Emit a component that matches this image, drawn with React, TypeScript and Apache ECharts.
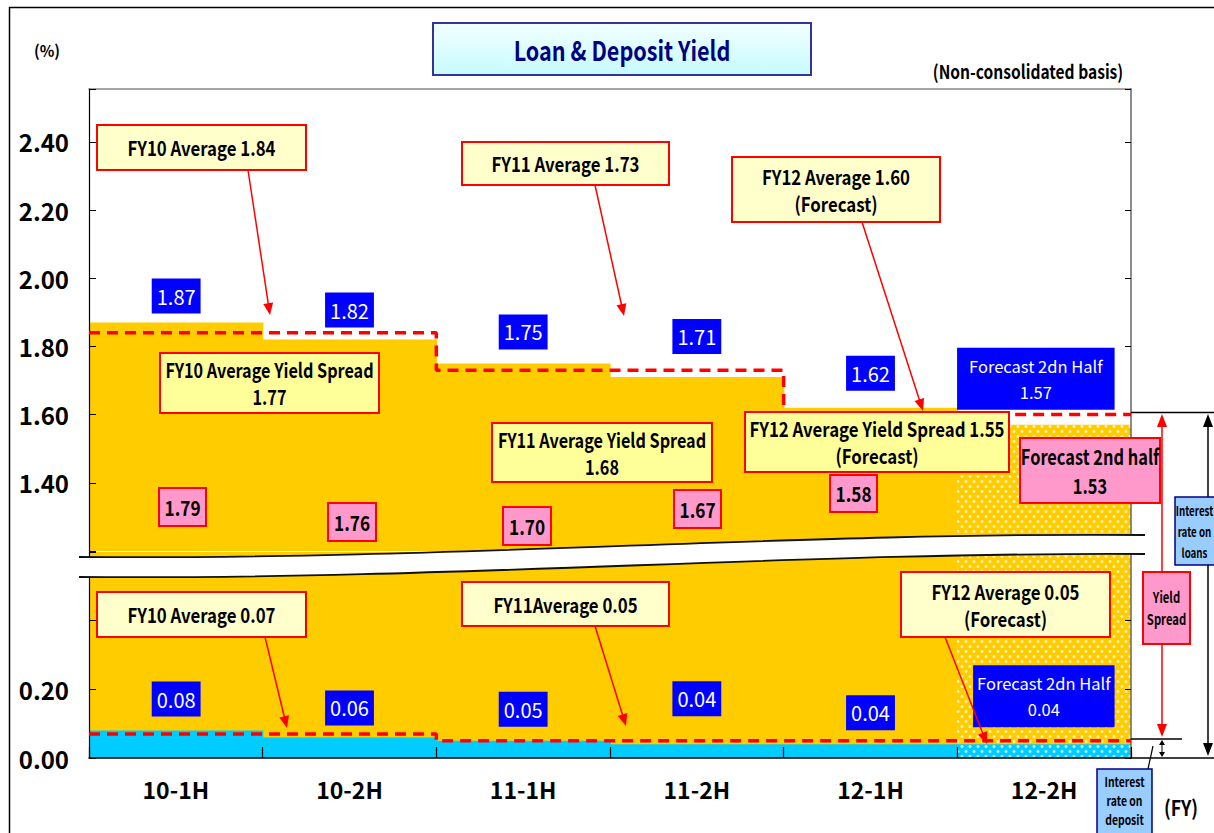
import React, { useEffect, useRef } from 'react';
import * as echarts from 'echarts';

// ---------------- data ----------------
const categories = ['10-1H', '10-2H', '11-1H', '11-2H', '12-1H', '12-2H'];
const loanYield = [1.87, 1.82, 1.75, 1.71, 1.62, 1.57];
const depositYield = [0.08, 0.06, 0.05, 0.04, 0.04, 0.04];
const yieldSpread = [1.79, 1.76, 1.7, 1.67, 1.58, 1.53];
const fiscalYears = ['FY10', 'FY11', 'FY12'];
const fyLoanAvg = [1.84, 1.73, 1.6];
const fyDepositAvg = [0.07, 0.05, 0.05];
const fySpreadAvg = [1.77, 1.68, 1.55];
const upperTickLabels = ['1.40', '1.60', '1.80', '2.00', '2.20', '2.40'];
const lowerTickLabels = ['0.00', '0.20'];
const FORECAST_INDEX = 5;

// ---------------- styles / layout ----------------
const FONT = "'Noto Sans CJK JP', 'Noto Sans', Roboto, sans-serif";
const ORANGE = '#FFCC00';
const CYAN = '#00CCFF';
const BLUE = '#0000FF';
const RED = '#FF0000';
const PINK = '#FF99CC';
const LIGHT_YELLOW = '#FFFFCC';
const YELLOW = '#FFFF99';
const SX = 0.84; // horizontal condensing of annotation texts
const BAR_W = 175; // slightly wider than a category band so neighbours overlap (no seams)
const upperLabelDist = [9, 12, 14, 23, 17, 15];
const lowerLabelDist = [14, 12, 14, 28, 14, 17];
const spreadBoxes = [
  [159, 488, 206, 526],
  [328, 503, 376, 541],
  [503, 507, 551, 545],
  [674, 490, 721, 528],
  [830, 475, 877, 512],
  [1020, 438, 1160, 503],
];

const dots = {
  symbol: 'circle',
  symbolSize: 1,
  symbolKeepAspect: false,
  color: 'rgba(255,255,255,0.7)',
  dashArrayX: [[4, 4], [0, 4, 4, 0]],
  dashArrayY: [2.5, 2],
};

const stepPts = (avgs: number[]) => avgs.flatMap((v, i) => [[i * 2, v], [i * 2 + 2, v]]);

// ---------------- graphic helpers ----------------
const rectEl = (l: number, t: number, r: number, b: number, fill: any, stroke: string, lw = 2, z = 100) => ({
  type: 'rect',
  shape: { x: l, y: t, width: r - l, height: b - t },
  style: { fill, stroke, lineWidth: lw },
  z,
});
const textEl = (cx: number, cy: number, text: string, size: number, color = '#000', lh?: number, sx = SX, z = 101) => ({
  type: 'text',
  x: cx,
  y: cy,
  scaleX: sx,
  style: {
    text,
    fill: color,
    fontSize: size,
    fontWeight: 'bold',
    fontFamily: FONT,
    align: 'center',
    verticalAlign: 'middle',
    lineHeight: lh ?? Math.round(size * 1.25),
  },
  z,
});
const boxEls = (
  l: number, t: number, r: number, b: number, fill: any, stroke: string, text: string, size: number,
  color = '#000', lh?: number, lw = 2, cx?: number, cy?: number, sx = SX
) => [rectEl(l, t, r, b, fill, stroke, lw), textEl(cx ?? (l + r) / 2, cy ?? (t + b) / 2, text, size, color, lh, sx)];
const lineEl = (x1: number, y1: number, x2: number, y2: number, color = '#000', lw = 1.5, z = 99) => ({
  type: 'line',
  shape: { x1, y1, x2, y2 },
  style: { stroke: color, lineWidth: lw },
  z,
});
const arrowEls = (x1: number, y1: number, x2: number, y2: number, color: string, lw = 1.5, hl = 12, hw = 5, z = 99) => {
  const dx = x2 - x1;
  const dy = y2 - y1;
  const len = Math.sqrt(dx * dx + dy * dy);
  const ux = dx / len;
  const uy = dy / len;
  const bx = x2 - ux * hl;
  const by = y2 - uy * hl;
  return [
    lineEl(x1, y1, bx + ux * 2, by + uy * 2, color, lw, z),
    {
      type: 'polygon',
      shape: { points: [[x2, y2], [bx - uy * hw, by + ux * hw], [bx + uy * hw, by - ux * hw]] },
      style: { fill: color },
      z,
    },
  ];
};

const BAND_D =
  'M79,557 C450,560 800,532 1145,535 L1145,554 C800,552 450,580 79,577 Z';

export default function App() {
  const ref = useRef<HTMLDivElement>(null);

  useEffect(() => {
    document.body.style.margin = '0';
    if (!ref.current) return;
    try {
      echarts.graphic.registerShape('breakBand', echarts.graphic.extendPath(BAND_D, {}) as any);
    } catch (e) {
      /* already registered */
    }
    const chart = echarts.init(ref.current, undefined, { renderer: 'svg' });

    const labelBase = {
      show: true,
      position: 'top',
      color: '#fff',
      backgroundColor: BLUE,
      fontSize: 20,
      fontFamily: FONT,
      lineHeight: 25,
      padding: [5, 5, 5, 5],
    };

    const upperData = loanYield.map((v, i) => ({
      value: v,
      itemStyle: i === FORECAST_INDEX ? { color: ORANGE, decal: dots } : undefined,
      label:
        i === FORECAST_INDEX
          ? { distance: upperLabelDist[i], fontSize: 16.5, lineHeight: 26, padding: [5, 12, 5, 12], offset: [-8, 0] }
          : { distance: upperLabelDist[i] },
    }));
    const lowerLoanData = loanYield.map((v, i) => ({
      value: v,
      itemStyle: i === FORECAST_INDEX ? { color: ORANGE, decal: dots } : undefined,
    }));
    const depositData = depositYield.map((v, i) => ({
      value: v,
      itemStyle: i === FORECAST_INDEX ? { color: CYAN, decal: dots } : undefined,
      label:
        i === FORECAST_INDEX
          ? { distance: lowerLabelDist[i], fontSize: 16.5, lineHeight: 26, padding: [5, 4, 5, 4] }
          : { distance: lowerLabelDist[i] },
    }));

    const fmtTop = (p: any) =>
      p.dataIndex === FORECAST_INDEX ? `Forecast 2dn Half\n${Number(p.value).toFixed(2)}` : Number(p.value).toFixed(2);

    const graphic: any[] = [];
    // outer frame
    graphic.push({
      type: 'polyline',
      shape: { points: [[9.5, 833], [9.5, 7.5], [1214, 7.5]] },
      style: { stroke: '#000', lineWidth: 1.5, fill: 'none' },
      z: 100,
    });
    // title
    graphic.push(
      ...boxEls(
        433, 23, 811, 75,
        new echarts.graphic.LinearGradient(0, 0, 0, 1, [
          { offset: 0, color: '#F2FFFF' },
          { offset: 1, color: '#C6FBFF' },
        ]),
        '#333399',
        'Loan & Deposit Yield',
        27,
        '#000080',
        undefined,
        2,
        undefined,
        undefined,
        0.8
      )
    );
    graphic.push(textEl(47, 50, '(%)', 16, '#000', undefined, 0.95));
    graphic.push(textEl(1028, 71, '(Non-consolidated basis)', 19, '#000', undefined, 0.82));
    graphic.push(textEl(1181, 807, '(FY)', 21, '#000', undefined, 0.85));

    // axis break band
    graphic.push({ type: 'breakBand', x: 0, y: 0, style: { fill: '#fff', stroke: 'none' }, z: 50 });
    graphic.push({
      type: 'bezierCurve',
      shape: { x1: 79, y1: 557, cpx1: 450, cpy1: 560, cpx2: 800, cpy2: 532, x2: 1145, y2: 535 },
      style: { stroke: '#111', lineWidth: 1.8, fill: 'none' },
      z: 51,
    });
    graphic.push({
      type: 'bezierCurve',
      shape: { x1: 79, y1: 577, cpx1: 450, cpy1: 580, cpx2: 800, cpy2: 552, x2: 1145, y2: 554 },
      style: { stroke: '#111', lineWidth: 1.8, fill: 'none' },
      z: 51,
    });

    // average callouts (loan)
    graphic.push(...boxEls(97, 125, 306, 170, LIGHT_YELLOW, RED, `${fiscalYears[0]} Average ${fyLoanAvg[0].toFixed(2)}`, 20));
    graphic.push(...arrowEls(248, 170, 270, 315, RED, 1.5, 12, 5));
    graphic.push(...boxEls(462, 142, 669, 185, LIGHT_YELLOW, RED, `${fiscalYears[1]} Average ${fyLoanAvg[1].toFixed(2)}`, 20));
    graphic.push(...arrowEls(595, 185, 624, 316, RED, 1.5, 12, 5));
    graphic.push(...boxEls(732, 157, 940, 222, LIGHT_YELLOW, RED, `${fiscalYears[2]} Average ${fyLoanAvg[2].toFixed(2)}\n(Forecast)`, 20, '#000', 27));
    graphic.push(...arrowEls(862, 222, 923, 411, RED, 1.5, 12, 5));

    // average spread callouts
    graphic.push(...boxEls(160, 353, 379, 413, YELLOW, RED, `${fiscalYears[0]} Average Yield Spread\n${fySpreadAvg[0].toFixed(2)}`, 20, '#000', 27, 2, undefined, undefined, 0.81));
    graphic.push(...boxEls(492, 423, 712, 482, YELLOW, RED, `${fiscalYears[1]} Average Yield Spread\n${fySpreadAvg[1].toFixed(2)}`, 20, '#000', 27, 2, undefined, undefined, 0.81));
    graphic.push(...boxEls(745, 412, 1009, 472, YELLOW, RED, `${fiscalYears[2]} Average Yield Spread ${fySpreadAvg[2].toFixed(2)}\n(Forecast)`, 20, '#000', 27));

    // average callouts (deposit)
    graphic.push(...boxEls(97, 592, 306, 637, LIGHT_YELLOW, RED, `${fiscalYears[0]} Average ${fyDepositAvg[0].toFixed(2)}`, 20));
    graphic.push(...arrowEls(265, 637, 287, 728, RED, 1.5, 12, 5));
    graphic.push(...boxEls(462, 582, 669, 626, LIGHT_YELLOW, RED, `${fiscalYears[1]}Average ${fyDepositAvg[1].toFixed(2)}`, 20));
    graphic.push(...arrowEls(595, 626, 626, 726, RED, 1.5, 12, 5));
    graphic.push(...boxEls(901, 572, 1110, 637, LIGHT_YELLOW, RED, `${fiscalYears[2]} Average ${fyDepositAvg[2].toFixed(2)}\n(Forecast)`, 20, '#000', 27));
    graphic.push(...arrowEls(945, 637, 987, 744, RED, 1.5, 12, 5));

    // spread value boxes
    yieldSpread.forEach((v, i) => {
      const [l, t, r, b] = spreadBoxes[i];
      const txt = i === FORECAST_INDEX ? `Forecast 2nd half\n${v.toFixed(2)}` : v.toFixed(2);
      graphic.push(...boxEls(l, t, r, b, PINK, RED, txt, 21, '#000', i === FORECAST_INDEX ? 29 : undefined, 2, undefined, undefined, i === FORECAST_INDEX ? 0.78 : 0.82));
    });

    // right-side annotation
    graphic.push(lineEl(1131, 412.5, 1214, 412.5, '#000', 1.5));
    graphic.push(lineEl(1131, 739, 1182, 739, '#000', 1.5));
    graphic.push(lineEl(1131, 758, 1214, 758, '#000', 1.5));
    graphic.push(...arrowEls(1208, 585, 1208, 414, '#000', 1.5, 13, 5));
    graphic.push(...arrowEls(1208, 585, 1208, 756, '#000', 1.5, 13, 5));
    graphic.push(...arrowEls(1162, 600, 1162, 414, RED, 1.5, 13, 5));
    graphic.push(...arrowEls(1162, 600, 1162, 737, RED, 1.5, 13, 5));
    graphic.push(...arrowEls(1162, 748, 1162, 740, '#000', 1, 5, 3));
    graphic.push(...arrowEls(1162, 748, 1162, 757, '#000', 1, 5, 3));
    graphic.push(lineEl(1153, 746, 1148, 769, '#000', 1.2));
    graphic.push(...boxEls(1143, 572, 1190, 644, PINK, RED, 'Yield\nSpread', 15, '#000', 22, 2, undefined, undefined, 0.75));
    graphic.push(...boxEls(1175, 497, 1238, 565, '#99CCFF', '#000080', 'Interest\nrate on\nloans', 13, '#000', 21, 1.5, 1194.5, 531, 0.75));
    graphic.push(...boxEls(1097, 769, 1152, 850, '#99CCFF', '#000080', 'Interest\nrate on\ndeposit', 13, '#000', 19, 1.5, 1124.5, 800, 0.8));

    const axisLabelStyle = { color: '#000', fontWeight: 'bold', fontFamily: FONT };

    const option: any = {
      animation: false,
      backgroundColor: '#fff',
      grid: [
        { left: 89, right: 83, top: 89, height: 462 },
        { left: 89, right: 83, top: 552, height: 206 },
      ],
      xAxis: [
        {
          type: 'category', gridIndex: 0, data: categories, position: 'top',
          axisLine: { show: true, lineStyle: { color: '#888', width: 1.5 } },
          axisTick: { show: false }, axisLabel: { show: false }, splitLine: { show: false },
        },
        {
          type: 'category', gridIndex: 1, data: categories, position: 'bottom', z: 3,
          axisLine: { show: true, lineStyle: { color: '#000', width: 1.5 } },
          axisTick: { show: true, inside: true, length: 11, lineStyle: { color: '#000', width: 1.2 } },
          axisLabel: { ...axisLabelStyle, fontSize: 23, margin: 19 },
        },
        { type: 'value', gridIndex: 0, min: 0, max: 6, show: false },
        { type: 'value', gridIndex: 1, min: 0, max: 6, show: false },
      ],
      yAxis: [
        {
          type: 'value', gridIndex: 0, min: 1.2, max: 2.555, interval: 0.2, position: 'left', z: 3,
          axisLine: { show: true, lineStyle: { color: '#000', width: 1.2 } },
          axisTick: { show: true, inside: true, length: 7, lineStyle: { color: '#000' } },
          splitLine: { show: false },
          axisLabel: {
            ...axisLabelStyle, fontSize: 24, margin: 20,
            formatter: (v: number) => (upperTickLabels.includes(v.toFixed(2)) ? v.toFixed(2) : ''),
          },
        },
        {
          type: 'value', gridIndex: 0, min: 1.2, max: 2.555, interval: 0.2, position: 'right', z: 3,
          axisLine: { show: true, lineStyle: { color: '#666', width: 1.5 } },
          axisTick: { show: true, inside: true, length: 6, lineStyle: { color: '#000' } },
          splitLine: { show: false }, axisLabel: { show: false },
        },
        {
          type: 'value', gridIndex: 1, min: 0, max: 0.6, interval: 0.2, position: 'left', z: 3,
          axisLine: { show: true, lineStyle: { color: '#000', width: 1.2 } },
          axisTick: { show: true, inside: true, length: 7, lineStyle: { color: '#000' } },
          splitLine: { show: false },
          axisLabel: {
            ...axisLabelStyle, fontSize: 24, margin: 20,
            formatter: (v: number) => (lowerTickLabels.includes(v.toFixed(2)) ? v.toFixed(2) : ''),
          },
        },
        {
          type: 'value', gridIndex: 1, min: 0, max: 0.6, interval: 0.2, position: 'right', z: 3,
          axisLine: { show: true, lineStyle: { color: '#666', width: 1.5 } },
          axisTick: { show: true, inside: true, length: 6, lineStyle: { color: '#000' } },
          splitLine: { show: false }, axisLabel: { show: false },
        },
      ],
      series: [
        {
          name: 'Loan yield', type: 'bar', xAxisIndex: 0, yAxisIndex: 0, barWidth: BAR_W,
          itemStyle: { color: ORANGE }, data: upperData,
          label: { ...labelBase, formatter: fmtTop },
        },
        {
          name: 'Loan yield (lower)', type: 'bar', xAxisIndex: 1, yAxisIndex: 2, barWidth: BAR_W, barGap: '-100%',
          itemStyle: { color: ORANGE }, data: lowerLoanData,
        },
        {
          name: 'Deposit yield', type: 'bar', xAxisIndex: 1, yAxisIndex: 2, barWidth: BAR_W, barGap: '-100%',
          itemStyle: { color: CYAN }, data: depositData,
          label: { ...labelBase, formatter: fmtTop },
        },
        {
          name: 'FY loan avg', type: 'line', xAxisIndex: 2, yAxisIndex: 0, symbol: 'none', z: 4,
          lineStyle: { color: RED, width: 3.5, type: [11, 7] }, data: stepPts(fyLoanAvg),
        },
        {
          name: 'FY deposit avg', type: 'line', xAxisIndex: 3, yAxisIndex: 2, symbol: 'none', z: 4,
          lineStyle: { color: RED, width: 3.5, type: [11, 7] }, data: stepPts(fyDepositAvg),
        },
      ],
      graphic: { elements: graphic },
    };

    chart.setOption(option);
    return () => chart.dispose();
  }, []);

  return <div ref={ref} style={{ width: 1214, height: 833 }} />;
}
